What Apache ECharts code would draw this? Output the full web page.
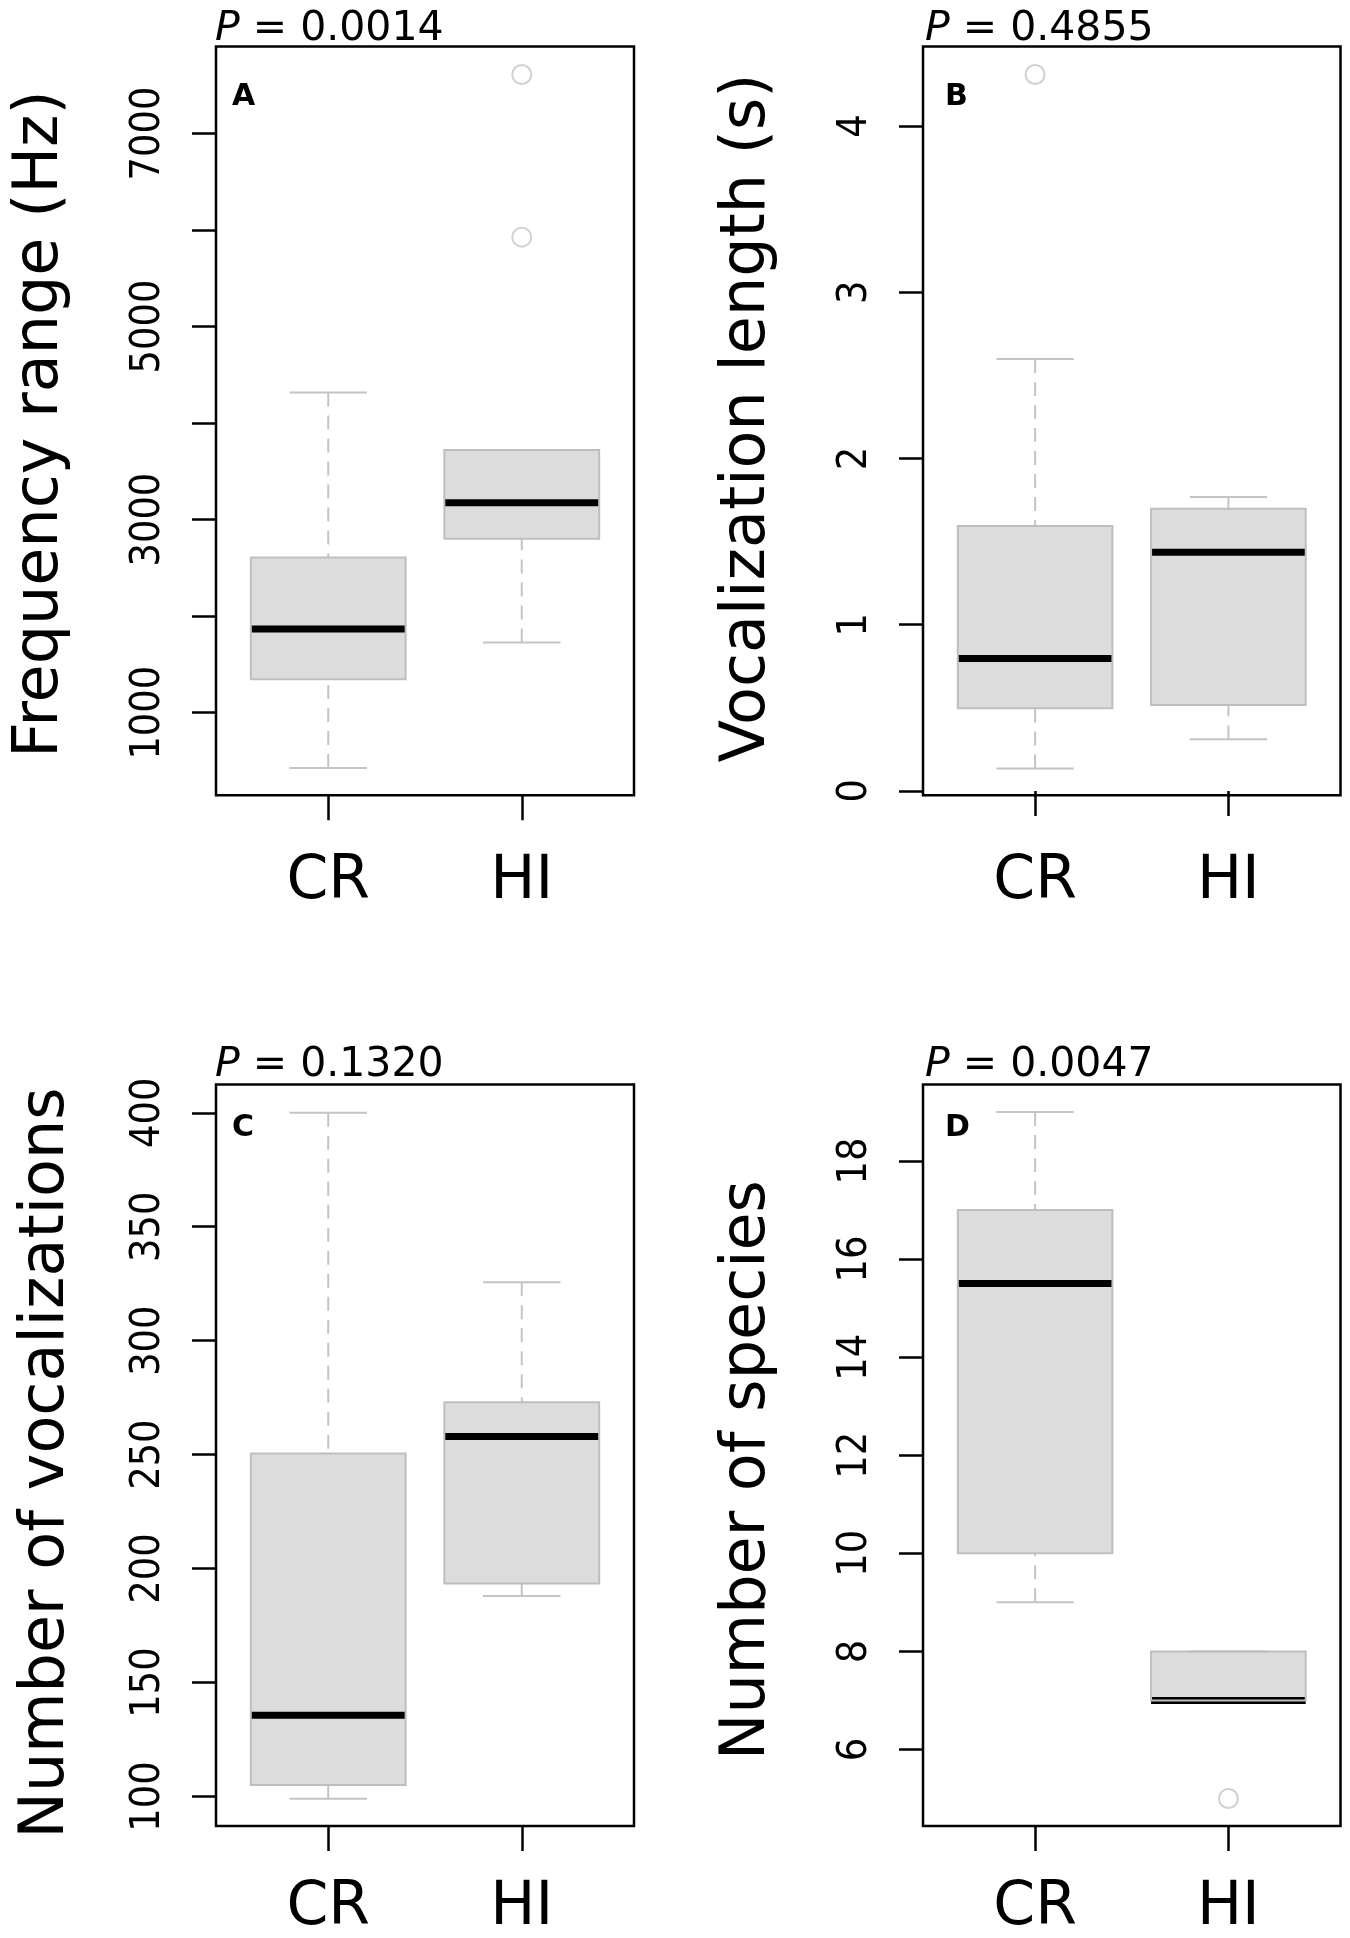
<!DOCTYPE html>
<html lang="en">
<head>
<meta charset="UTF-8">
<title>CR vs HI boxplots</title>
<script src="https://cdn.jsdelivr.net/npm/echarts@6/dist/echarts.min.js"></script>
<style>
    html, body { margin: 0; padding: 0; background: #fff; }
    #chart { width: 1350px; height: 1938px; }
</style>
</head>
<body>
<div id="chart"></div>
<script>
    var categories = ['CR', 'HI'];

    // [lower whisker, Q1, median, Q3, upper whisker]
    var freqCR = [428, 1347, 1868, 2608, 4318];
    var freqHI = [1727, 2801, 3174, 3720, 3720];
    var freqOutCR = [];
    var freqOutHI = [5926, 7611];

    var lenCR = [0.135, 0.497, 0.796, 1.593, 2.598];
    var lenHI = [0.31, 0.516, 1.436, 1.697, 1.768];
    var lenOutCR = [4.31];
    var lenOutHI = [];

    var vocCR = [99, 105, 135.6, 250.5, 400];
    var vocHI = [188, 193.5, 258, 273, 325.6];
    var vocOutCR = [];
    var vocOutHI = [];

    var sppCR = [9, 10, 15.5, 17, 19];
    var sppHI = [7, 7, 7, 8, 8];
    var sppOutCR = [];
    var sppOutHI = [5];

    var pValues = ['0.0014', '0.4855', '0.1320', '0.0047'];
    var panelLetters = ['A', 'B', 'C', 'D'];
    var yTitles = ['Frequency range (Hz)', 'Vocalization length (s)', 'Number of vocalizations', 'Number of species'];

    var freqTicks = [1000, 2000, 3000, 4000, 5000, 6000, 7000];
    var freqLabels = [1000, 3000, 5000, 7000];
    var lenTicks = [0, 1, 2, 3, 4];
    var vocTicks = [100, 150, 200, 250, 300, 350, 400];
    var sppTicks = [6, 8, 10, 12, 14, 16, 18];

    // layout of the four panels (pixels)
    var panels = [
        { left: 216, top: 46.6, width: 418, height: 748.6, yMin: 145, yMax: 7900,
          ticks: freqTicks, labels: freqLabels, boxes: [freqCR, freqHI], out: [freqOutCR, freqOutHI],
          xMargin: 57, titleX: 41, titleY: 424, pX: 215, pY: 29, letX: 232, letY: 97 },
        { left: 923, top: 46.6, width: 417.5, height: 748.6, yMin: -0.026, yMax: 4.478,
          ticks: lenTicks, labels: lenTicks, boxes: [lenCR, lenHI], out: [lenOutCR, lenOutHI],
          xMargin: 57, titleX: 748, titleY: 418, pX: 925, pY: 29, letX: 945, letY: 97 },
        { left: 216, top: 1084.5, width: 418, height: 749.2, yMin: 87.05, yMax: 412.4,
          ticks: vocTicks, labels: vocTicks, boxes: [vocCR, vocHI], out: [vocOutCR, vocOutHI],
          xMargin: 52, titleX: 47, titleY: 1463, pX: 215, pY: 1065, letX: 232, letY: 1128 },
        { left: 923, top: 1084.5, width: 417.5, height: 749.2, yMin: 4.44, yMax: 19.56,
          ticks: sppTicks, labels: sppTicks, boxes: [sppCR, sppHI], out: [sppOutCR, sppOutHI],
          xMargin: 52, titleX: 748, titleY: 1470, pX: 925, pY: 1065, letX: 945, letY: 1128 }
    ];

    var BOX_WIDTH = 0.8;

    function renderBox(params, api) {
        var x = api.value(0);
        var pLo = api.coord([x, api.value(1)]);
        var pQ1 = api.coord([x, api.value(2)]);
        var pMed = api.coord([x, api.value(3)]);
        var pQ3 = api.coord([x, api.value(4)]);
        var pHi = api.coord([x, api.value(5)]);
        var w = api.size([BOX_WIDTH, 0])[0];
        var cx = pMed[0];
        var half = w / 2;
        var capHalf = w / 4;
        var dash = { stroke: '#c4c4c4', lineWidth: 2, lineDash: [14, 9] };
        var solid = { stroke: '#c4c4c4', lineWidth: 2 };
        var boxShape = { x: cx - half, y: pQ3[1], width: w, height: pQ1[1] - pQ3[1] };
        return {
            type: 'group',
            children: [
                { type: 'rect', shape: boxShape, style: { fill: '#dcdcdc' } },
                { type: 'line', shape: { x1: cx, y1: pLo[1], x2: cx, y2: pQ1[1] }, style: dash },
                { type: 'line', shape: { x1: cx, y1: pHi[1], x2: cx, y2: pQ3[1] }, style: dash },
                { type: 'line', shape: { x1: cx - capHalf, y1: pLo[1], x2: cx + capHalf, y2: pLo[1] }, style: solid },
                { type: 'line', shape: { x1: cx - capHalf, y1: pHi[1], x2: cx + capHalf, y2: pHi[1] }, style: solid },
                { type: 'line', shape: { x1: cx - half, y1: pMed[1], x2: cx + half, y2: pMed[1] }, style: { stroke: '#000', lineWidth: 7 } },
                { type: 'rect', shape: boxShape, style: { fill: 'none', stroke: '#bebebe', lineWidth: 2 } }
            ]
        };
    }

    var grids = [], xAxes = [], yAxes = [], series = [], graphics = [];

    panels.forEach(function (p, i) {
        grids.push({
            left: p.left, top: p.top, width: p.width, height: p.height,
            show: true, borderColor: '#000', borderWidth: 2.5, backgroundColor: 'transparent'
        });
        xAxes.push({
            type: 'value', gridIndex: i, min: 0.42, max: 2.58,
            axisLine: { show: false },
            splitLine: { show: false },
            axisTick: { show: true, length: 25, customValues: [1, 2], lineStyle: { color: '#000', width: 2.5 } },
            axisLabel: {
                customValues: [1, 2], margin: p.xMargin,
                fontSize: 60, fontFamily: 'DejaVu Sans', color: '#000',
                formatter: function (v) { return categories[Math.round(v) - 1]; }
            }
        });
        yAxes.push({
            type: 'value', gridIndex: i, min: p.yMin, max: p.yMax,
            axisLine: { show: false },
            splitLine: { show: false },
            axisTick: { show: true, length: 24, customValues: p.ticks, lineStyle: { color: '#000', width: 2.5 } },
            axisLabel: {
                customValues: p.labels, rotate: 90, margin: 47,
                fontSize: 41, fontFamily: '"Liberation Sans Narrow", "DejaVu Sans Condensed", "DejaVu Sans"', color: '#000',
                formatter: function (v) { return String(v); }
            }
        });
        series.push({
            type: 'custom', xAxisIndex: i, yAxisIndex: i,
            renderItem: renderBox,
            encode: { x: 0, y: [1, 2, 3, 4, 5] },
            data: p.boxes.map(function (b, k) { return [k + 1].concat(b); }),
            z: 2
        });
        var outData = [];
        p.out.forEach(function (vals, k) {
            vals.forEach(function (v) { outData.push([k + 1, v]); });
        });
        series.push({
            type: 'scatter', xAxisIndex: i, yAxisIndex: i,
            symbol: 'emptyCircle', symbolSize: 19,
            itemStyle: { color: '#c4c4c4', borderWidth: 2 },
            data: outData, z: 3
        });
        graphics.push({
            type: 'text', x: p.titleX, y: p.titleY, rotation: Math.PI / 2, z: 100,
            style: { text: yTitles[i], fontSize: 62, fontFamily: 'DejaVu Sans', fill: '#000', align: 'center', verticalAlign: 'middle' }
        });
        graphics.push({
            type: 'text', x: p.pX, y: p.pY, z: 100,
            style: {
                text: '{i|P} = ' + pValues[i], fontSize: 41, fontFamily: 'DejaVu Sans', fill: '#000',
                align: 'left', verticalAlign: 'middle',
                rich: { i: { fontStyle: 'italic', fontSize: 41, fontFamily: 'DejaVu Sans', fill: '#000' } }
            }
        });
        graphics.push({
            type: 'text', x: p.letX, y: p.letY, z: 100,
            style: { text: panelLetters[i], fontSize: 30, fontWeight: 'bold', fontFamily: 'DejaVu Sans', fill: '#000', align: 'left', verticalAlign: 'middle' }
        });
    });

    var my = echarts.init(document.getElementById('chart'), null, { renderer: 'canvas' });
    my.setOption({
        backgroundColor: '#fff',
        animation: false,
        grid: grids,
        xAxis: xAxes,
        yAxis: yAxes,
        series: series,
        graphic: graphics
    });
</script>
</body>
</html>
